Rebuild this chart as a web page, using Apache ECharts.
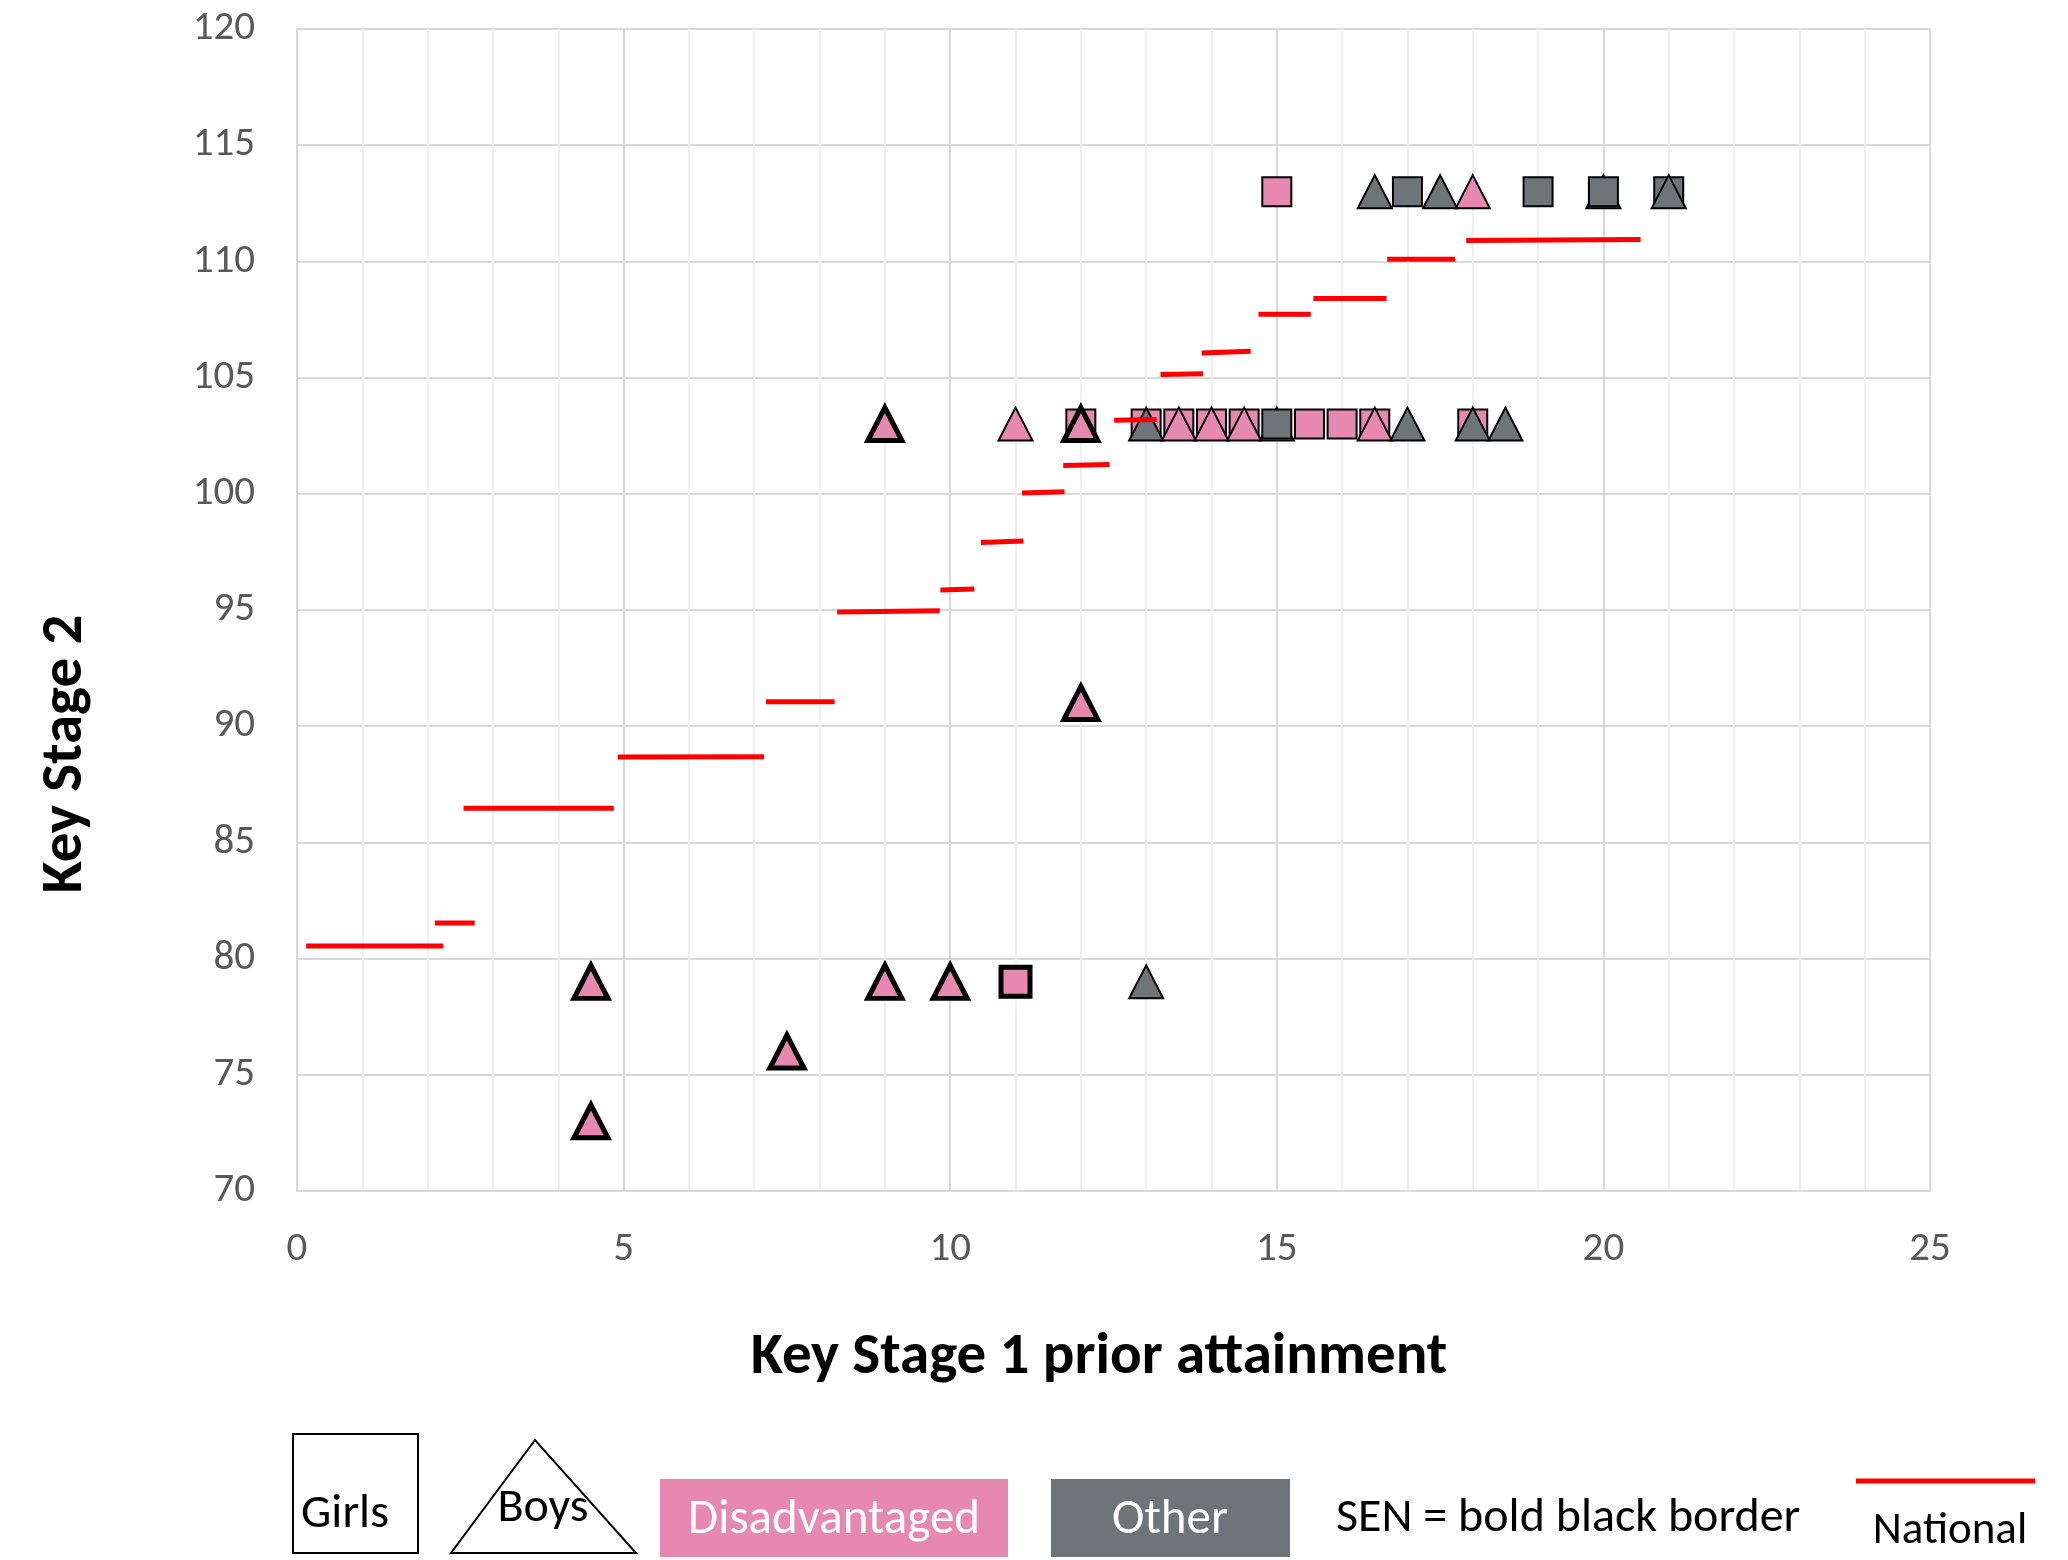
<!DOCTYPE html>
<html>
<head>
<meta charset="utf-8">
<script src="https://cdn.jsdelivr.net/npm/echarts@6/dist/echarts.min.js"></script>
<style>
html,body{margin:0;padding:0;background:#fff;}
#chart{width:2068px;height:1560px;}
</style>
</head>
<body>
<div id="chart"></div>
<script>
// ---- Data ----
const xTicks = [0, 5, 10, 15, 20, 25];
const yTicks = [70, 75, 80, 85, 90, 95, 100, 105, 110, 115, 120];

// Girls, disadvantaged (pink squares)
const girlsDis = [[12,103],[13,103],[13.5,103],[14,103],[14.5,103],[15.5,103],[16,103],[16.5,103],[18,103],[15,113]];
// Girls, disadvantaged, SEN (bold border)
const girlsDisSEN = [[11,79]];
// Boys, disadvantaged (pink triangles)
const boysDis = [[11,103],[13.5,103],[14,103],[14.5,103],[16.5,103],[15,103],[18,113],[20,113]];
// Boys, disadvantaged, SEN (bold border)
const boysDisSEN = [[9,103],[12,103],[12,91],[4.5,79],[4.5,73],[7.5,76],[9,79],[10,79]];
// Girls, other (grey squares)
const girlsOther = [[15,103],[17,113],[19,113],[20,113],[21,113]];
// Boys, other (grey triangles)
const boysOther = [[13,103],[17,103],[18,103],[18.5,103],[13,79],[16.5,113],[17.5,113],[21,113]];

// National line segments (start x, end x, start y, end y)
const natX1 = [0.14, 2.11, 2.55, 4.91, 7.18, 8.27, 9.85, 10.47, 11.10, 11.73, 12.51, 13.22, 13.85, 14.72, 15.56, 16.69, 17.90];
const natX2 = [2.24, 2.72, 4.85, 7.15, 8.23, 9.84, 10.37, 11.12, 11.75, 12.44, 13.16, 13.87, 14.60, 15.52, 16.68, 17.73, 20.57];
const natY1 = [80.54, 81.53, 86.47, 88.67, 91.05, 94.91, 95.86, 97.90, 100.03, 101.22, 103.16, 105.13, 106.06, 107.73, 108.40, 110.09, 110.90];
const natY2 = [80.54, 81.53, 86.47, 88.69, 91.05, 94.97, 95.90, 97.97, 100.09, 101.26, 103.20, 105.17, 106.13, 107.73, 108.40, 110.09, 110.94];

// ---- Styles ----
const PINK = '#E688B0';
const GREY = '#6E7578';
const FONT = "Carlito, Calibri, Lato, 'Open Sans', sans-serif";
const SQ = 29;
const TRI = [34, 33];

function scatter(name, data, symbol, color, bw) {
  return {
    name: name, type: 'scatter', data: data, symbol: symbol,
    symbolSize: symbol === 'rect' ? SQ : TRI,
    itemStyle: {color: color, borderColor: '#000', borderWidth: bw, opacity: 1},
    emphasis: {disabled: true}, z: 3
  };
}

const series = [
  scatter('Girls disadvantaged', girlsDis, 'rect', PINK, 2),
  scatter('Girls disadvantaged SEN', girlsDisSEN, 'rect', PINK, 5),
  scatter('Boys disadvantaged', boysDis, 'triangle', PINK, 2),
  scatter('Boys disadvantaged SEN', boysDisSEN, 'triangle', PINK, 5),
  scatter('Girls other', girlsOther, 'rect', GREY, 2),
  scatter('Boys other', boysOther, 'triangle', GREY, 2)
];
natX1.forEach(function (x1, i) {
  series.push({
    name: 'National', type: 'line', data: [[x1, natY1[i]], [natX2[i], natY2[i]]],
    symbol: 'none', lineStyle: {color: '#FF0000', width: 5, cap: 'butt'},
    emphasis: {disabled: true}, z: 4
  });
});

const chart = echarts.init(document.getElementById('chart'), null, {renderer: 'canvas'});
chart.setOption({
  animation: false,
  backgroundColor: '#fff',
  grid: {left: 297, top: 29, width: 1633, height: 1162, containLabel: false},
  xAxis: {
    type: 'value', min: xTicks[0], max: xTicks[xTicks.length - 1], interval: 5,
    name: 'Key Stage 1 prior attainment', nameLocation: 'middle', nameGap: 138,
    nameTextStyle: {fontFamily: FONT, fontSize: 59, fontWeight: 'bold', color: '#000', padding: [0, 29, 0, 0]},
    axisLine: {show: true, lineStyle: {color: '#D9D9D9', width: 2}},
    axisTick: {show: false},
    axisLabel: {fontFamily: FONT, fontSize: 41, color: '#595959', margin: 38},
    splitLine: {show: true, lineStyle: {color: '#D9D9D9', width: 2}},
    minorTick: {show: false, splitNumber: 5},
    minorSplitLine: {show: true, lineStyle: {color: '#F0F0F0', width: 2}}
  },
  yAxis: {
    type: 'value', min: yTicks[0], max: yTicks[yTicks.length - 1], interval: 5,
    axisLine: {show: true, lineStyle: {color: '#D9D9D9', width: 2}},
    axisTick: {show: false},
    axisLabel: {fontFamily: FONT, fontSize: 41, color: '#595959', margin: 42},
    splitLine: {show: true, lineStyle: {color: '#D9D9D9', width: 2}}
  },
  graphic: [
    {type: 'text', x: 66, y: 754, rotation: Math.PI / 2,
     style: {text: 'Key Stage 2', font: "bold 59px " + FONT, fill: '#000', align: 'center', verticalAlign: 'middle'}},
    // legend: Girls box
    {type: 'rect', shape: {x: 293, y: 1434, width: 125, height: 119},
     style: {fill: '#fff', stroke: '#000', lineWidth: 2}},
    {type: 'text', x: 345, y: 1515,
     style: {text: 'Girls', font: "48px " + FONT, fill: '#000', align: 'center', verticalAlign: 'middle'}},
    // Boys triangle
    {type: 'polygon', shape: {points: [[535, 1440], [451, 1553], [636, 1553]]},
     style: {fill: '#fff', stroke: '#000', lineWidth: 2}},
    {type: 'text', x: 543, y: 1509,
     style: {text: 'Boys', font: "48px " + FONT, fill: '#000', align: 'center', verticalAlign: 'middle'}},
    // Disadvantaged
    {type: 'rect', shape: {x: 660, y: 1479, width: 348, height: 78}, style: {fill: PINK}},
    {type: 'text', x: 834, y: 1521,
     style: {text: 'Disadvantaged', font: "49px " + FONT, fill: '#fff', align: 'center', verticalAlign: 'middle'}},
    // Other
    {type: 'rect', shape: {x: 1051, y: 1479, width: 239, height: 78}, style: {fill: GREY}},
    {type: 'text', x: 1170, y: 1521,
     style: {text: 'Other', font: "49px " + FONT, fill: '#fff', align: 'center', verticalAlign: 'middle'}},
    // SEN note
    {type: 'text', x: 1336, y: 1519,
     style: {text: 'SEN = bold black border', font: "48px " + FONT, fill: '#000', align: 'left', verticalAlign: 'middle'}},
    // National
    {type: 'line', shape: {x1: 1856, y1: 1481, x2: 2035, y2: 1481}, style: {stroke: '#FF0000', lineWidth: 5}},
    {type: 'text', x: 1950, y: 1532,
     style: {text: 'National', font: "45px " + FONT, fill: '#000', align: 'center', verticalAlign: 'middle'}}
  ],
  series: series
});
</script>
</body>
</html>
